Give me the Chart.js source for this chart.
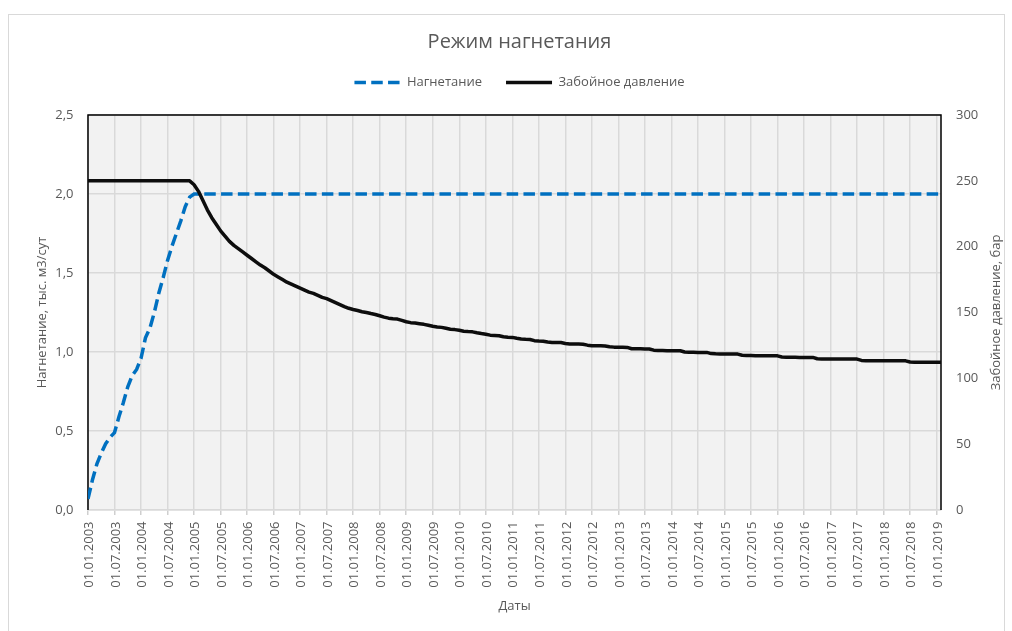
<!DOCTYPE html>
<html lang="ru">
<head>
<meta charset="utf-8">
<title>Режим нагнетания</title>
<script src="https://cdn.jsdelivr.net/npm/chart.js@4.4.1/dist/chart.umd.min.js"></script>
<style>
  html, body { margin: 0; padding: 0; background: #ffffff; }
  canvas { display: block; }
</style>
</head>
<body>
<canvas id="chart" width="1012" height="631"></canvas>
<script>
// Half-year date ticks along the x axis (month 0 = 01.01.2003)
const dateTicks = [
  '01.01.2003', '01.07.2003', '01.01.2004', '01.07.2004', '01.01.2005', '01.07.2005',
  '01.01.2006', '01.07.2006', '01.01.2007', '01.07.2007', '01.01.2008', '01.07.2008',
  '01.01.2009', '01.07.2009', '01.01.2010', '01.07.2010', '01.01.2011', '01.07.2011',
  '01.01.2012', '01.07.2012', '01.01.2013', '01.07.2013', '01.01.2014', '01.07.2014',
  '01.01.2015', '01.07.2015', '01.01.2016', '01.07.2016', '01.01.2017', '01.07.2017',
  '01.01.2018', '01.07.2018', '01.01.2019'
];

const leftTicks = ['0,0', '0,5', '1,0', '1,5', '2,0', '2,5'];
const rightTicks = ['0', '50', '100', '150', '200', '250', '300'];

// Injection rate, thousand m3/day: ramp-up months, then steady plateau to the end
const injectionMonths = [0, 1, 2, 3, 4, 5, 6, 7, 8, 9, 10, 11, 12, 13, 14, 15, 16, 17, 18, 19, 20, 21, 22, 23, 24, 193];
const injectionValues = [0.07, 0.19, 0.29, 0.36, 0.42, 0.46, 0.49, 0.59, 0.68, 0.78, 0.85, 0.89,
                         0.96, 1.09, 1.15, 1.25, 1.37, 1.47, 1.58, 1.67, 1.75, 1.83, 1.92, 1.98,
                         2.0, 2.0];

// Bottom-hole pressure, bar, monthly from 01.01.2003
const pressureValues = [
  250, 250, 250, 250, 250, 250, 250, 250, 250, 250, 250, 250,                         // 2003
  250, 250, 250, 250, 250, 250, 250, 250, 250, 250, 250, 250,                         // 2004
  247, 242, 235, 228, 222, 217, 212, 208, 204, 201, 198.5, 196,                       // 2005
  193.5, 191, 188.5, 186, 184, 181.5, 179, 177, 175, 173, 171.5, 170,                 // 2006
  168.5, 167, 165.5, 164.5, 163, 161.5, 160.5, 159, 157.5, 156, 154.5, 153.2,         // 2007
  152.3, 151.5, 150.6, 150, 149.2, 148.5, 147.5, 146.5, 145.7, 145.3, 145, 144,       // 2008
  143, 142.3, 142, 141.5, 141, 140.3, 139.5, 139, 138.7, 138, 137.3, 137,             // 2009
  136.5, 135.8, 135.5, 135.3, 134.6, 134, 133.5, 132.8, 132.6, 132.4, 131.6, 131.2,   // 2010
  131.1, 130.4, 129.8, 129.6, 129.5, 128.6, 128.3, 128.2, 127.6, 127.3, 127.3, 127.2, // 2011
  126.5, 126.1, 126.0, 126.0, 125.9, 125.2, 124.8, 124.7, 124.7, 124.6, 124.0, 123.7, // 2012
  123.6, 123.6, 123.5, 122.5, 122.4, 122.4, 122.3, 122.3, 121.4, 121.1, 121.1, 121.0, // 2013
  121.0, 121.0, 120.9, 120.0, 119.8, 119.8, 119.7, 119.7, 119.7, 118.8, 118.6, 118.5, // 2014
  118.5, 118.5, 118.4, 118.4, 117.5, 117.3, 117.3, 117.2, 117.2, 117.2, 117.2, 117.1, // 2015
  117.1, 116.2, 116.0, 116.0, 116.0, 115.9, 115.9, 115.9, 115.9, 114.9, 114.7, 114.7, // 2016
  114.7, 114.7, 114.6, 114.6, 114.6, 114.6, 114.6, 113.6, 113.4, 113.4, 113.4, 113.4, // 2017
  113.4, 113.3, 113.3, 113.3, 113.3, 113.3, 112.4, 112.2, 112.2, 112.2, 112.2, 112.2, // 2018
  112.2, 112.2                                                                        // 2019
];

const TEXT = '#595959';
const GRID = '#D9D9D9';
const FONT = '"Open Sans", "Noto Sans", sans-serif';

Chart.defaults.font.family = FONT;
Chart.defaults.font.size = 13;
Chart.defaults.color = TEXT;

// Grey plot background and light outer frame of the chart
const backdrop = {
  id: 'backdrop',
  beforeDraw(chart) {
    const { ctx, chartArea: a } = chart;
    ctx.save();
    ctx.fillStyle = '#F2F2F2';
    ctx.fillRect(a.left, a.top, a.right - a.left, a.bottom - a.top);
    ctx.strokeStyle = '#D9D9D9';
    ctx.lineWidth = 1;
    ctx.strokeRect(8.5, 14.5, 996, 640);
    ctx.restore();
  }
};

// Black frame on the left, top and right of the plot area
const plotFrame = {
  id: 'plotFrame',
  beforeDatasetsDraw(chart) {
    const { ctx, chartArea: a } = chart;
    ctx.save();
    ctx.strokeStyle = '#000000';
    ctx.lineWidth = 1.5;
    ctx.beginPath();
    ctx.moveTo(a.left, a.bottom);
    ctx.lineTo(a.left, a.top);
    ctx.lineTo(a.right, a.top);
    ctx.lineTo(a.right, a.bottom);
    ctx.stroke();
    ctx.restore();
  }
};

// Title of the secondary axis, reading bottom-to-top like the primary one
const rightTitle = {
  id: 'rightTitle',
  afterDraw(chart) {
    const { ctx, chartArea: a } = chart;
    ctx.save();
    ctx.translate(996, (a.top + a.bottom) / 2);
    ctx.rotate(-Math.PI / 2);
    ctx.font = '13px ' + FONT;
    ctx.fillStyle = TEXT;
    ctx.textAlign = 'center';
    ctx.textBaseline = 'middle';
    ctx.fillText('Забойное давление, бар', 0, 0);
    ctx.restore();
  }
};

const injectionData = injectionMonths.map((m, i) => ({ x: m, y: injectionValues[i] }));
const pressureData = pressureValues.map((v, i) => ({ x: i, y: v }));

new Chart(document.getElementById('chart'), {
  type: 'line',
  data: {
    datasets: [
      {
        label: 'Нагнетание',
        data: injectionData,
        yAxisID: 'y',
        borderColor: '#0070C0',
        borderWidth: 3.5,
        borderDash: [11.5, 5.3],
        borderCapStyle: 'butt',
        pointRadius: 0,
        pointHoverRadius: 0,
        tension: 0,
        order: 1
      },
      {
        label: 'Забойное давление',
        data: pressureData,
        yAxisID: 'y2',
        borderColor: '#0D0D0D',
        borderWidth: 3.5,
        borderJoinStyle: 'round',
        pointRadius: 0,
        pointHoverRadius: 0,
        tension: 0,
        order: 0
      }
    ]
  },
  options: {
    responsive: false,
    animation: false,
    devicePixelRatio: 1,
    layout: { padding: { left: 27, right: 0, top: 0, bottom: 0 } },
    plugins: {
      tooltip: { enabled: false },
      title: {
        display: true,
        text: 'Режим нагнетания',
        color: TEXT,
        font: { size: 20, weight: 'normal', lineHeight: '18px' },
        padding: { top: 33.5, bottom: 0.5 }
      },
      subtitle: {
        display: true,
        text: '',
        weight: 500,
        padding: 0,
        font: { size: 16, lineHeight: '16px' }
      },
      legend: {
        display: true,
        position: 'top',
        labels: {
          color: TEXT,
          font: { size: 13 },
          padding: 24,
          usePointStyle: true,
          pointStyle: 'line',
          pointStyleWidth: 46,
          generateLabels(chart) {
            return chart.data.datasets.map((ds, i) => ({
              text: ds.label,
              fillStyle: ds.borderColor,
              strokeStyle: ds.borderColor,
              fontColor: TEXT,
              lineWidth: ds.borderWidth,
              lineDash: ds.borderDash || [],
              lineCap: 'butt',
              pointStyle: 'line',
              hidden: false,
              datasetIndex: i
            }));
          }
        }
      }
    },
    scales: {
      x: {
        type: 'linear',
        min: 0,
        max: 193,
        afterFit(scale) { scale.height = 121; },
        ticks: {
          stepSize: 6,
          includeBounds: false,
          autoSkip: false,
          maxRotation: 90,
          minRotation: 90,
          padding: 6.5,
          labelOffset: 1.5,
          color: TEXT,
          font: { size: 13 },
          callback: (value, index) => dateTicks[index]
        },
        grid: { color: GRID, lineWidth: 1.5, drawTicks: true, tickLength: 5, tickColor: '#CFCFCF' },
        border: { display: true, color: GRID, width: 1.5 },
        title: {
          display: true,
          text: 'Даты',
          color: TEXT,
          font: { size: 13 },
          padding: { top: 0, bottom: 17.2 }
        }
      },
      y: {
        type: 'linear',
        position: 'left',
        min: 0,
        max: 2.5,
        afterFit(scale) { scale.width = 61; },
        ticks: {
          stepSize: 0.5,
          padding: 14.5,
          color: TEXT,
          font: { size: 13 },
          callback: (value, index) => leftTicks[index]
        },
        grid: { color: GRID, lineWidth: 1.5, drawTicks: false },
        border: { display: false },
        title: {
          display: true,
          text: 'Нагнетание, тыс. м3/сут',
          color: TEXT,
          font: { size: 13 },
          padding: { top: 7.2, bottom: 0 }
        }
      },
      y2: {
        type: 'linear',
        position: 'right',
        min: 0,
        max: 300,
        afterFit(scale) { scale.width = 71; },
        ticks: {
          stepSize: 50,
          padding: 15,
          color: TEXT,
          font: { size: 13 },
          callback: (value, index) => rightTicks[index]
        },
        grid: { display: false, drawOnChartArea: false, drawTicks: false },
        border: { display: false }
      }
    }
  },
  plugins: [backdrop, plotFrame, rightTitle]
});
</script>
</body>
</html>
